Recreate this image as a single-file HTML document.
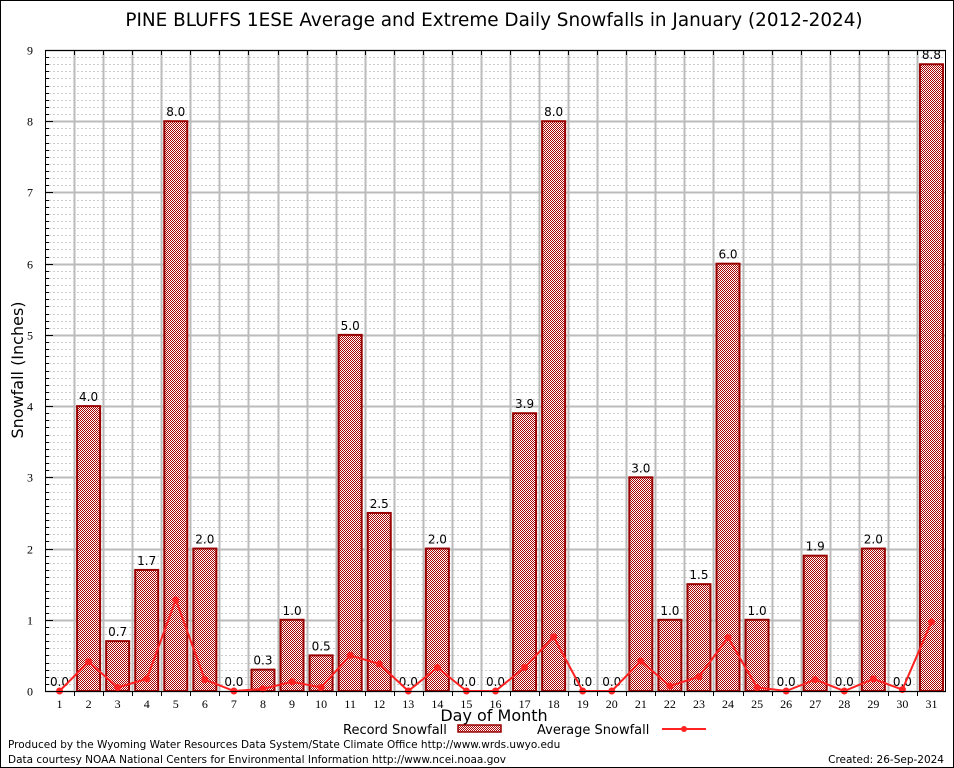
<!DOCTYPE html>
<html><head><meta charset="utf-8"><style>
body{margin:0;background:#fff;}
svg{display:block;font-family:"DejaVu Sans","Liberation Sans",sans-serif;}
</style></head><body>
<svg id="chart" width="954" height="768" viewBox="0 0 954 768">
<defs>
<pattern id="chk" width="2" height="2" patternUnits="userSpaceOnUse">
<rect width="2" height="2" fill="#fff"/><rect width="1" height="1" fill="#a00"/><rect x="1" y="1" width="1" height="1" fill="#a00"/>
</pattern>
</defs>
<rect x="0.5" y="0.5" width="953" height="767" fill="#fff" stroke="#000"/>
<text x="494" y="26" font-size="18.4" text-anchor="middle">PINE BLUFFS 1ESE Average and Extreme Daily Snowfalls in January (2012-2024)</text>
<g id="grid"></g>
<g id="bars"></g>
<g id="line"></g>
<g id="axes"></g>
<text x="23" y="370" font-size="16" text-anchor="middle" transform="rotate(-90 23 370)">Snowfall (Inches)</text>
<text x="494" y="721" font-size="16" text-anchor="middle">Day of Month</text>
<g>
<text x="343" y="734" font-size="13">Record Snowfall</text>
<rect x="458" y="725" width="43" height="7" fill="url(#chk)" stroke="#900" stroke-width="1.5"/>
<text x="537" y="734" font-size="13">Average Snowfall</text>
<line x1="662" y1="729" x2="706" y2="729" stroke="#f22" stroke-width="2"/>
<circle cx="684" cy="729" r="3" fill="#f22"/>
</g>
<text x="8" y="748" font-size="10.5">Produced by the Wyoming Water Resources Data System/State Climate Office http://www.wrds.uwyo.edu</text>
<text x="8" y="763" font-size="10.5">Data courtesy NOAA National Centers for Environmental Information http://www.ncei.noaa.gov</text>
<text x="944" y="763" font-size="10.5" text-anchor="end">Created: 26-Sep-2024</text>
</svg>
<script>
const days=[1,2,3,4,5,6,7,8,9,10,11,12,13,14,15,16,17,18,19,20,21,22,23,24,25,26,27,28,29,30,31];
const recordSnow=[0.0,4.0,0.7,1.7,8.0,2.0,0.0,0.3,1.0,0.5,5.0,2.5,0.0,2.0,0.0,0.0,3.9,8.0,0.0,0.0,3.0,1.0,1.5,6.0,1.0,0.0,1.9,0.0,2.0,0.0,8.8];
const avgSnow=[0,0.41,0.05,0.17,1.28,0.16,0,0.03,0.13,0.05,0.5,0.38,0,0.33,0,0,0.33,0.76,0,0,0.42,0.07,0.2,0.75,0.05,0,0.16,0,0.17,0.02,0.97];
const yTicks=[0,1,2,3,4,5,6,7,8,9];
const NS="http://www.w3.org/2000/svg";
const L=45,R=946,T=50,B=691,yMax=9;
const slot=(R-L)/days.length;
function xc(i){return L+slot*(i+0.5);}
function y(v){return B-(v/yMax)*(B-T);}
function mk(tag,attrs,parent,text){const e=document.createElementNS(NS,tag);for(const k in attrs)e.setAttribute(k,attrs[k]);if(text!==undefined)e.textContent=text;parent.appendChild(e);return e;}
const grid=document.getElementById('grid'),bars=document.getElementById('bars'),line=document.getElementById('line'),axes=document.getElementById('axes');
mk('rect',{x:L,y:T,width:R-L,height:B-T,fill:'#fff'},grid);
for(let t=0;t<yMax;t++){for(let m=1;m<10;m++){const yy=Math.round(y(t+m/10))+0.5;mk('line',{x1:L,x2:R,y1:yy,y2:yy,stroke:'#ccc','stroke-dasharray':'2,2','stroke-width':1},grid);}}
yTicks.forEach(t=>{const yy=Math.round(y(t))+0.5;const l=mk('line',{x1:L,x2:R,y1:yy,y2:yy,stroke:'#bbb','stroke-width':2},grid);


const tx=mk('text',{x:L-12,y:yy+4,'font-size':12,'text-anchor':'end','font-family':'Liberation Serif, serif'},axes,String(t));


for(let m=1;m<10&&t<yMax;m++){const my=Math.round(y(t+m/10))+0.5;mk('line',{x1:L,x2:L+4,y1:my,y2:my,stroke:'#000'},axes);}
mk('line',{x1:L,x2:L+8,y1:yy,y2:yy,stroke:'#000'},axes);});
for(let i=1;i<days.length;i++){const xx=Math.round(L+slot*i)+0.5;mk('line',{x1:xx,x2:xx,y1:T,y2:B,stroke:'#bbb','stroke-width':2},grid);mk('line',{x1:xx,x2:xx,y1:T,y2:T+5,stroke:'#000'},axes);mk('line',{x1:xx,x2:xx,y1:B,y2:B+5,stroke:'#000'},axes);}
days.forEach((d,i)=>{const v=recordSnow[i];const w=23;const x0=xc(i)-w/2;
if(v>0){const r=mk('rect',{x:x0,y:y(v),width:w,height:B-y(v),fill:'url(#chk)',stroke:'#900','stroke-width':2},bars);

}
const lb=mk('text',{x:xc(i),y:y(v)-5,'font-size':12,'text-anchor':'middle'},bars,v.toFixed(1));


const tl=mk('text',{x:xc(i),y:B+17,'font-size':12,'text-anchor':'middle','font-family':'Liberation Serif, serif'},axes,String(d));

});
mk('rect',{x:L+0.5,y:T+0.5,width:R-L-1,height:B-T,fill:'none',stroke:'#000'},axes);
const pts=avgSnow.map((v,i)=>xc(i)+','+y(v)).join(' ');
const pl=mk('polyline',{points:pts,fill:'none',stroke:'#f22','stroke-width':2},line);


avgSnow.forEach((v,i)=>{const c=mk('circle',{cx:xc(i),cy:y(v),r:3.5,fill:'#f22'},line);

});
</script>
</body></html>
